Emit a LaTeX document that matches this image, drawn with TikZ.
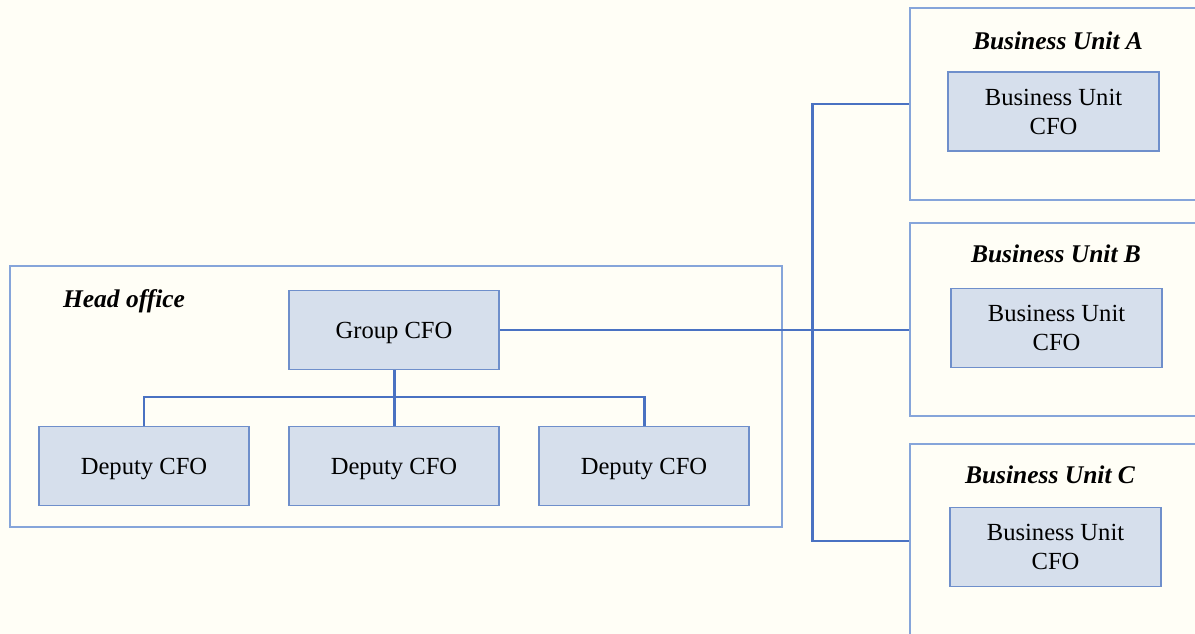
\documentclass[tikz,border=0pt]{standalone}
\usepackage{fontspec}
\setmainfont{Liberation Serif}
\definecolor{paper}{HTML}{FFFEF6}
\definecolor{boxfill}{HTML}{D6DFEC}
\definecolor{boxline}{HTML}{6F8FCB}
\definecolor{frameline}{HTML}{86A5DA}
\definecolor{linkline}{HTML}{4A72C2}
\tikzset{
  cfo/.style={draw=boxline,line width=0.9pt,fill=boxfill,minimum width=4.2cm,minimum height=1.58cm,
    align=center,font=\fontsize{14}{16.5}\selectfont,inner sep=0pt},
  unit/.style={draw=frameline,line width=0.8pt,fill=paper,inner sep=0pt},
  title/.style={font=\fontsize{14.5}{16}\selectfont\bfseries\itshape},
  link/.style={draw=linkline,line width=1.7pt}
}
\begin{document}
\begin{tikzpicture}[x=0.02cm,y=-0.02cm]
  \fill[paper] (0,0) rectangle (1195,634);
  \useasboundingbox (0,0) rectangle (1195,634);
  % head office
  \node[unit,minimum width=15.44cm,minimum height=5.22cm] (head) at (396,396.5) {};
  \node[title] (headtitle) at (124,301) {Head office};
  \node[cfo,text height=13pt] (gcfo) at (394,330) {Group CFO};
  \foreach \i/\x in {1/144,2/394,3/644} {
    \node[cfo,text height=13pt] (dep\i) at (\x,466) {Deputy CFO};
  }
  % business units
  \node[unit,minimum width=5.8cm,minimum height=3.84cm] (buA) at (1055,104) {};
  \node[unit,minimum width=5.8cm,minimum height=3.86cm] (buB) at (1055,319.5) {};
  \node[unit,minimum width=5.8cm,minimum height=3.88cm] (buC) at (1055,541) {};
  \node[title] (titleA) at (1058,41) {Business Unit A};
  \node[title] (titleB) at (1056,254) {Business Unit B};
  \node[title] (titleC) at (1050,475) {Business Unit C};
  \node[cfo,minimum width=4.22cm] (cfoA) at (1053.5,111.5) {Business Unit\\CFO};
  \node[cfo,minimum width=4.22cm] (cfoB) at (1056.5,328) {Business Unit\\CFO};
  \node[cfo,minimum width=4.22cm] (cfoC) at (1055.5,547) {Business Unit\\CFO};
  % connectors
  \coordinate (bus) at (394,397);
  \coordinate (trunk) at (812,330);
  \draw[link] (gcfo.south) -- (dep2.north);
  \draw[link] (dep1.north) |- (bus) -| (dep3.north);
  \draw[link] (gcfo.east) -- (gcfo.east -| buB.west);
  \draw[link] (buA.west) -- (buA.west -| trunk) -- (buC.west -| trunk) -- (buC.west);
\end{tikzpicture}
\end{document}
